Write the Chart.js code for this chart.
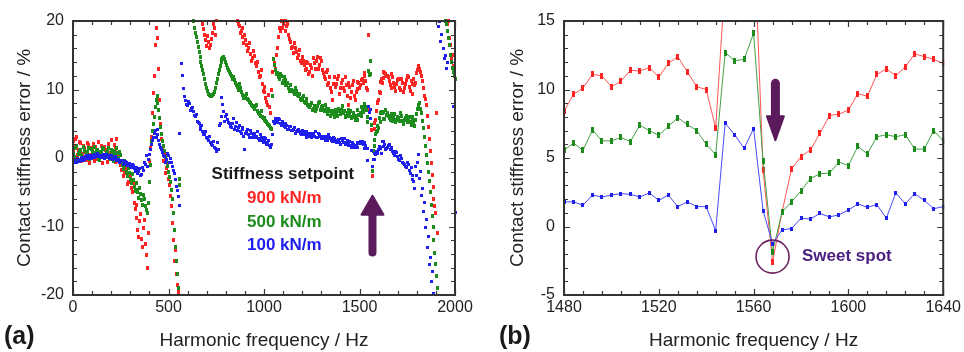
<!DOCTYPE html>
<html>
<head>
<meta charset="utf-8">
<script src="https://cdn.jsdelivr.net/npm/chart.js@4.4.1/dist/chart.umd.min.js"></script>
<style>
  html, body { margin: 0; padding: 0; background: #fff; }
  #wrap { position: relative; width: 964px; height: 352px; overflow: hidden; }
  .panel { position: absolute; top: 0; width: 482px; height: 352px; }
</style>
</head>
<body>
<div id="wrap">
  <div class="panel" style="left:0"><canvas id="chartA" width="482" height="352"></canvas></div>
  <div class="panel" style="left:482px"><canvas id="chartB" width="482" height="352"></canvas></div>
</div>
<script>
// ---- Panel (a): full sweep. Harmonics on two interleaved 10 Hz grids ----
// grid "A": 0, 10, ... 1470 Hz and 1650 ... 2000 Hz
// grid "B": 5, 15, ... 1475 Hz and 1645 ... 1995 Hz
const lowStartA = 0, lowStartB = 5, lowStep = 10;
const highStartA = 1650, highStartB = 1645, highStep = 10;

const red900LowA = [
  2.5,1.8,3.0,1.2,2.2,0.6,1.5,-0.3,1.9,0.4,1.1,0.2,1.6,-0.2,0.9,1.8,0.1,1.2,-0.6,0.8,2.6,0.3,1.3,2.8,-0.5,
  -1.0,-0.4,-2.2,-1.5,-3.5,-2.8,-5.0,-6.5,-8.8,-10.5,-9.2,-11.8,-10.2,-12.5,-16.0,
  -0.5,3.0,9.5,16.5,22,13.0,5.0,1.5,0.5,-1.5,-3.0,-5.5,-9.5,-15.0,-17.0,-19.5,null,
  null,null,null,null,null,null,null,null,null,null,null,
  19.5,18.0,16.3,17.0,16.5,18.2,19.0,20.5,
  null,null,null,null,null,null,null,null,null,null,
  20.0,19.2,18.5,17.6,17.9,16.5,16.0,15.2,14.6,14.9,13.5,12.6,12.0,10.8,9.6,8.8,7.8,7.4,
  10.0,14.5,13.0,16.0,19.0,20.0,19.5,20.0,19.2,18.0,17.0,
  16.2,16.8,15.5,15.0,14.2,14.8,13.6,13.0,13.8,12.6,13.2,14.6,13.0,14.8,13.6,14.2,12.4,11.6,12.8,11.0,
  10.2,8.4,11.8,10.8,12.0,10.2,11.4,9.8,10.6,7.8,10.4,9.6,11.2
];
const red900LowB = [
  1.2,2.8,0.4,2.4,-0.4,1.7,0.9,2.2,-0.8,1.5,2.0,-0.4,0.8,2.3,0.5,-0.7,1.6,0.6,2.0,-0.2,1.0,1.9,-0.6,0.6,0.8,
  -1.8,-2.6,-0.8,-3.8,-2.2,-4.4,-3.6,-7.5,-6.8,-11.6,-8.2,-13.0,-9.0,-14.2,-11.0,
  1.5,6.5,12.0,19.0,17.5,8.5,2.8,-0.5,-2.2,-0.8,-4.0,-7.0,-12.0,-13.5,-18.5,null,null,
  null,null,null,null,null,null,null,null,null,null,null,
  18.8,17.2,17.8,16.0,17.4,19.6,18.0,null,
  null,null,null,null,null,null,null,null,null,null,
  19.6,18.2,19.0,16.8,17.2,15.6,16.8,14.2,15.6,13.8,14.0,11.8,12.8,9.8,10.4,8.2,9.2,6.6,
  12.5,13.8,15.0,17.6,18.6,19.0,20.0,18.6,19.6,17.4,16.0,
  15.4,16.0,14.6,15.8,13.8,14.2,12.8,14.0,12.2,13.6,12.0,13.8,14.2,13.0,14.6,12.8,11.8,12.6,10.6,11.8,
  9.6,10.8,10.4,11.6,9.4,11.0,10.2,11.8,9.0,11.0,8.8,10.6,9.0
];
const green500LowA = [
  1.5,0.2,1.8,0.6,1.2,-0.2,1.0,0.4,1.4,0.0,0.9,1.6,0.3,1.1,-0.3,0.7,1.3,0.2,1.0,0.5,1.2,-0.4,0.8,1.5,0.0,
  0.5,-1.0,-0.4,-2.0,-1.5,-3.0,-2.4,-4.2,-3.6,-5.0,-4.4,-6.2,-5.4,-7.0,-8.0,
  -3.5,2.5,5.0,7.5,9.0,7.0,4.5,2.5,1.0,-0.5,-2.0,-3.5,-6.0,-10.5,-15.0,-19.0,-3.0,
  null,null,null,null,null,null,
  20.0,18.2,17.0,15.5,14.0,12.8,11.5,10.2,9.4,9.0,9.2,9.6,11.0,12.2,13.5,14.4,14.8,14.0,13.2,12.6,
  12.0,11.8,11.0,10.4,10.8,9.6,9.2,8.8,9.4,8.4,8.0,7.6,7.2,7.8,6.6,6.2,6.0,5.8,5.4,5.0,4.6,
  4.2,14.5,12.8,12.4,11.6,12.0,11.2,11.4,10.8,10.2,10.6,9.8,9.4,9.8,9.0,8.6,8.8,8.2,8.6,7.8,
  7.4,8.0,7.2,6.8,7.6,8.2,7.4,7.0,7.8,6.6,7.2,6.2,6.8,6.0,6.6,7.2,6.4,7.6,6.8,6.2,
  7.0,6.4,5.8,6.6
];
const green500LowB = [
  0.6,1.4,-0.1,1.0,0.4,1.6,0.2,0.9,-0.2,1.3,0.5,0.8,1.2,-0.1,0.9,1.5,0.4,0.7,1.4,-0.2,0.6,1.0,0.3,0.8,0.9,
  -0.4,-1.6,-1.0,-2.6,-2.2,-3.6,-3.2,-4.8,-4.6,-5.8,-5.2,-6.8,-6.0,-7.6,-6.5,
  -1.0,4.0,6.0,8.5,8.0,5.8,3.5,1.8,0.2,-1.2,-2.8,-4.6,-8.0,-13.0,-17.0,-4.0,null,
  null,null,null,null,null,null,
  19.0,17.6,16.2,14.8,13.4,12.2,10.8,9.8,9.2,9.0,9.4,10.2,11.6,12.8,14.0,14.6,14.4,13.6,12.8,12.2,
  11.6,11.4,10.6,10.0,10.2,9.2,8.8,9.0,8.6,8.2,7.8,7.4,7.6,6.8,6.4,6.8,5.8,5.6,5.2,4.8,4.4,
  9.0,13.6,12.2,11.8,12.2,11.0,11.8,10.6,11.0,9.8,10.0,9.6,10.2,9.2,9.4,8.4,9.0,8.0,8.2,7.6,
  7.8,7.0,7.6,7.2,8.0,7.0,7.6,6.8,7.2,6.4,6.8,6.6,6.4,7.0,6.2,6.8,7.0,6.6,6.0,6.6,
  6.2,6.8,6.0,6.2
];
const blue100LowA = [
  -0.5,-0.3,-0.6,-0.2,-0.4,0.1,-0.2,0.3,0.0,0.4,0.1,0.5,0.2,0.6,0.3,0.1,0.5,0.2,0.4,0.0,0.3,-0.1,0.2,-0.3,-0.2,
  -0.5,-0.4,-0.8,-0.6,-1.0,-1.2,-0.9,-1.5,-1.8,-2.2,-1.6,-2.4,-1.8,-1.0,-1.2,
  0.5,2.0,3.0,4.0,3.5,2.5,1.5,0.8,0.2,-0.2,0.4,0.0,-1.2,-2.2,-4.2,-5.6,-7.0,
  13.8,10.2,8.4,7.6,7.9,7.2,6.8,6.0,5.4,5.0,4.2,3.8,3.5,3.0,2.5,2.2,1.8,1.6,1.0,1.2,
  5.0,8.8,6.8,6.0,5.6,5.0,4.4,5.8,4.6,4.0,4.8,3.6,4.2,1.2,3.8,3.4,4.0,3.0,3.6,3.2,
  2.8,3.4,2.6,2.4,2.8,2.2,1.8,2.0,
  5.4,5.8,5.2,5.6,4.8,5.0,4.4,4.8,4.2,4.6,4.0,4.4,3.8,4.2,3.6,4.0,3.4,3.8,3.2,3.6,
  3.0,3.4,3.8,3.0,3.4,2.8,3.2,2.6,3.0,3.4,2.8,2.4,2.9,2.2,2.7,2.0,2.5,2.9,2.2,1.8,
  2.4,1.6,2.0
];
const blue100LowB = [
  -0.4,-0.7,-0.1,-0.5,0.0,-0.3,0.2,-0.1,0.3,0.0,0.4,0.1,0.5,0.2,0.4,0.3,0.0,0.5,0.1,0.3,-0.2,0.1,0.0,-0.4,-0.6,
  -0.3,-0.9,-0.5,-1.1,-0.8,-1.4,-1.1,-1.9,-1.4,-2.0,-2.6,-1.4,-0.6,0.3,-0.2,
  1.2,2.6,3.6,3.0,4.2,2.0,1.2,0.4,-0.6,0.6,-0.6,-0.6,-1.8,-3.2,-4.8,3.6,null,
  12.0,9.0,7.8,8.2,7.0,7.4,6.2,6.4,5.2,4.6,4.8,3.4,3.8,2.8,3.2,2.0,2.4,1.4,2.2,4.8,
  6.0,7.8,5.4,6.4,5.2,4.6,5.0,4.2,5.2,4.4,3.8,4.4,3.2,3.6,4.2,3.0,3.6,3.4,3.0,3.8,
  2.6,3.0,2.2,3.0,2.0,2.6,1.6,3.5,
  5.0,5.4,5.8,5.0,5.4,4.6,5.0,4.2,4.6,4.0,4.2,3.6,4.0,3.8,3.4,3.8,3.6,3.0,3.4,3.2,
  3.6,3.2,3.0,3.6,3.2,3.0,2.8,3.2,2.6,3.0,2.6,3.0,2.4,2.6,2.2,2.8,2.3,2.0,2.6,2.2,
  1.8,2.2,1.5
];

const red900HighA = [
  11.8,10.6,12.2,11.0,9.8,11.4,10.2,11.6,9.6,10.8,
  12.0,10.4,11.2,9.4,10.6,12.4,13.4,12.6,11.2,9.0,
  7.8,4.5,1.0,-2.5,-6.0,-8.0,-11.0,null,null,null,
  null,19.5,17.5,14.5,13.5,null
];
const red900HighB = [
  12.0,11.2,10.2,11.8,10.4,10.8,11.6,10.0,11.0,10.2,
  11.4,11.8,9.8,10.8,11.6,11.0,12.8,13.0,12.0,10.2,
  8.6,6.2,2.8,-0.8,-4.2,-7.0,6.5,null,null,null,
  null,null,20.0,16.5,15.0,12.8
];
const green500HighA = [
  6.2,5.6,6.4,5.8,5.2,6.0,5.4,6.2,5.0,5.8,
  5.2,6.0,4.8,5.4,4.6,6.4,7.8,7.2,5.4,3.0,
  0.5,-2.0,-5.0,-8.5,-12.0,-15.5,-19.0,null,null,null,
  20.0,18.5,16.5,14.0,12.5,11.5
];
const green500HighB = [
  6.6,5.8,6.0,5.4,6.4,5.6,5.8,6.6,5.4,5.6,
  6.2,5.6,5.2,6.0,5.0,5.6,7.2,8.0,6.6,4.4,
  1.8,-0.8,-3.4,-6.8,-10.0,-13.8,-17.2,null,null,null,
  null,19.5,17.5,15.0,13.2,12.0
];
const blue100HighA = [
  1.8,1.2,1.6,0.6,1.0,0.2,-0.4,0.0,-0.8,-1.2,
  -0.6,-1.8,-1.4,-2.6,-4.5,-2.5,0.5,-2.0,-4.5,-6.5,
  -9.0,-11.5,-14.5,-16.5,-19.8,null,null,20.0,18.0,16.0,
  15.0,14.0,null,null,7.5,-8.0
];
const blue100HighB = [
  1.6,2.0,1.4,1.0,0.4,0.8,-0.2,0.4,-0.6,-1.0,
  -1.4,-1.0,-2.2,-3.2,-3.4,-1.2,-0.6,-3.0,-5.5,-7.8,
  -10.2,-13.0,-15.5,-18.0,null,null,null,19.2,17.0,null,
  14.5,13.0,null,null,null,null
];

// ---- Panel (b): harmonics 1480-1640 Hz, 4 Hz apart (also drawn in panel a) ----
const zoomStart = 1480, zoomStep = 4;
const red900Zoom = [
  8.4,9.65,10.1,11.1,11.0,10.2,10.6,11.4,11.35,11.6,10.9,11.9,12.4,11.3,10.2,10.0,7.2,
  18.0,24.0,23.0,22.3,4.1,-2.6,1.05,4.2,5.1,5.6,6.8,8.1,8.2,8.5,9.7,9.5,11.1,11.5,11.0,
  11.65,12.6,12.4,12.2,11.9
];
const green500Zoom = [
  5.55,6.1,5.55,7.05,6.25,6.25,6.5,6.2,7.4,7.0,6.65,7.3,7.95,7.45,7.0,6.0,5.25,
  12.7,12.1,12.2,14.1,4.8,-1.85,1.05,1.8,2.6,3.5,3.85,3.9,4.7,4.45,5.85,5.3,6.55,6.7,6.55,
  6.7,5.65,5.65,7.0,6.25
];
const blue100Zoom = [
  1.8,1.8,1.55,2.3,2.15,2.3,2.4,2.35,2.15,2.45,1.9,2.3,1.45,1.8,1.45,1.45,-0.3,
  7.55,6.7,5.7,7.15,1.15,-1.25,-0.25,-0.15,0.6,0.55,0.95,0.7,0.85,1.2,1.65,1.4,1.6,0.6,2.45,
  1.65,2.4,1.9,1.3,1.45
];

const seriesNames = ['900 kN/m', '500 kN/m', '100 kN/m'];
const pointColours = ['#ff2424', '#1d8c1d', '#2020ee'];
const lineColours = ['#ff5555', '#45a045', '#4a4aff'];
const sweetSpotHz = 1568;

// ---- helpers ----
function toPoints(start, step, values) {
  const pts = [];
  values.forEach((v, i) => { if (v !== null) pts.push({ x: start + i * step, y: v }); });
  return pts;
}

// small filled rectangle used as a marker
function mark(colour, w, h) {
  const c = document.createElement('canvas');
  c.width = w; c.height = h;
  const g = c.getContext('2d');
  g.fillStyle = colour;
  g.fillRect(0, 0, w, h);
  return c;
}

const FONT = '"Liberation Sans", Arial, Helvetica, sans-serif';
Chart.defaults.font.family = FONT;
Chart.defaults.color = '#222';

function frameTicks(xMinor, xMajor, yMinor, yMajor) {
  return {
    id: 'frameTicks',
    afterDatasetsDraw(chart) {
      const { ctx, chartArea: a, scales: { x, y } } = chart;
      ctx.save();
      ctx.strokeStyle = '#3a3a3a';
      ctx.lineWidth = 1.2;
      ctx.beginPath();
      const nx = Math.round((x.max - x.min) / xMinor);
      for (let i = 0; i <= nx; i++) {
        const v = x.min + i * xMinor;
        const len = (Math.abs(Math.round(v / xMajor) * xMajor - v) < 1e-6) ? 6 : 4;
        const px = Math.round(x.getPixelForValue(v)) + 0.5;
        ctx.moveTo(px, a.bottom); ctx.lineTo(px, a.bottom - len);
        ctx.moveTo(px, a.top); ctx.lineTo(px, a.top + len);
      }
      const ny = Math.round((y.max - y.min) / yMinor);
      for (let i = 0; i <= ny; i++) {
        const v = y.min + i * yMinor;
        const len = (Math.abs(Math.round(v / yMajor) * yMajor - v) < 1e-6) ? 6 : 4;
        const py = Math.round(y.getPixelForValue(v)) + 0.5;
        ctx.moveTo(a.left, py); ctx.lineTo(a.left + len, py);
        ctx.moveTo(a.right, py); ctx.lineTo(a.right - len, py);
      }
      ctx.stroke();
      ctx.lineWidth = 2;
      ctx.strokeStyle = '#333';
      ctx.strokeRect(a.left, a.top, a.right - a.left, a.bottom - a.top);
      ctx.restore();
    }
  };
}

function drawArrow(ctx, x, yTail, yTip, shaftW, headW, headL, colour) {
  const dir = Math.sign(yTip - yTail);
  const yHead = yTip - dir * headL;
  ctx.save();
  ctx.strokeStyle = colour;
  ctx.fillStyle = colour;
  ctx.lineWidth = shaftW;
  ctx.lineCap = 'round';
  ctx.beginPath();
  ctx.moveTo(x, yTail);
  ctx.lineTo(x, yHead + dir * 2);
  ctx.stroke();
  ctx.lineJoin = 'round';
  ctx.lineWidth = 2;
  ctx.beginPath();
  ctx.moveTo(x - headW / 2, yHead);
  ctx.lineTo(x + headW / 2, yHead);
  ctx.lineTo(x, yTip);
  ctx.closePath();
  ctx.fill();
  ctx.stroke();
  ctx.restore();
}

function panelLetter(text, left) {
  return {
    id: 'panelLetter',
    afterDraw(chart) {
      const ctx = chart.ctx;
      ctx.save();
      ctx.font = 'bold 25px ' + FONT;
      ctx.fillStyle = '#1a1a1a';
      ctx.textAlign = 'left';
      ctx.textBaseline = 'middle';
      ctx.fillText(text, left, 337);
      ctx.restore();
    }
  };
}

function axes(xMin, xMax, xStep, yMin, yMax, yStep, yAxisWidth, yTitlePad) {
  return {
    x: {
      type: 'linear', min: xMin, max: xMax,
      afterFit(s) { s.height = 57; },
      grid: { display: false, drawTicks: false },
      border: { display: false },
      ticks: { stepSize: xStep, padding: 3, maxRotation: 0, color: '#222', font: { size: 16 },
               callback: v => String(v) },
      title: { display: true, text: 'Harmonic frequency / Hz', color: '#222',
               font: { size: 19 }, padding: { top: 0, bottom: 0 } }
    },
    y: {
      type: 'linear', min: yMin, max: yMax,
      afterFit(s) { s.width = yAxisWidth; },
      grid: { display: false, drawTicks: false },
      border: { display: false },
      ticks: { stepSize: yStep, padding: 9, color: '#222', font: { size: 16 },
               callback: v => String(v) },
      title: { display: true, text: 'Contact stiffness error / %', color: '#222',
               font: { size: 19 }, padding: { top: yTitlePad, bottom: 0 } }
    }
  };
}

// ---- Panel (a) ----
const sweepParts = [
  [red900LowA, red900LowB, red900Zoom, red900HighA, red900HighB],
  [green500LowA, green500LowB, green500Zoom, green500HighA, green500HighB],
  [blue100LowA, blue100LowB, blue100Zoom, blue100HighA, blue100HighB]
];
const sweepSets = sweepParts.map((p, k) => ({
  label: seriesNames[k],
  data: [
    ...toPoints(lowStartA, lowStep, p[0]),
    ...toPoints(lowStartB, lowStep, p[1]),
    ...toPoints(zoomStart, zoomStep, p[2]),
    ...toPoints(highStartA, highStep, p[3]),
    ...toPoints(highStartB, highStep, p[4])
  ],
  showLine: false,
  pointStyle: mark(pointColours[k], 3, k === 2 ? 3 : 4),
  pointRadius: 2,
  pointBorderWidth: 0,
  backgroundColor: pointColours[k],
  borderColor: pointColours[k],
  clip: 2
})).reverse();

const annotateA = {
  id: 'annotateA',
  afterDatasetsDraw(chart) {
    const { ctx, scales: { x, y } } = chart;
    ctx.save();
    ctx.textBaseline = 'middle';
    ctx.font = 'bold 17px ' + FONT;
    ctx.fillStyle = '#1a1a1a';
    ctx.textAlign = 'center';
    ctx.fillText('Stiffness setpoint', x.getPixelForValue(1099), y.getPixelForValue(-2.4));
    ctx.textAlign = 'left';
    const rows = [-5.9, -9.35, -12.8];
    seriesNames.forEach((name, k) => {
      ctx.fillStyle = pointColours[k];
      ctx.fillText(name, x.getPixelForValue(911), y.getPixelForValue(rows[k]));
    });
    ctx.restore();
    drawArrow(ctx, x.getPixelForValue(sweetSpotHz), y.getPixelForValue(-13.8),
              y.getPixelForValue(-5.5), 8, 22, 19, '#5a1a5c');
  }
};

new Chart(document.getElementById('chartA'), {
  type: 'scatter',
  data: { datasets: sweepSets },
  options: {
    responsive: false, animation: false, devicePixelRatio: 1,
    layout: { padding: { left: 0, right: 27, top: 21, bottom: 0 } },
    plugins: { legend: { display: false }, tooltip: { enabled: false } },
    scales: axes(0, 2000, 500, -20, 20, 10, 73, 13)
  },
  plugins: [annotateA, frameTicks(100, 500, 2, 10), panelLetter('(a)', 4)]
});

// ---- Panel (b) ----
const zoomSets = [red900Zoom, green500Zoom, blue100Zoom].map((vals, k) => ({
  label: seriesNames[k],
  data: toPoints(zoomStart, zoomStep, vals),
  showLine: true,
  borderWidth: 1,
  borderColor: lineColours[k],
  pointStyle: mark(pointColours[k], 3, k === 2 ? 4 : 6),
  pointRadius: 2,
  pointBorderWidth: 0,
  pointBackgroundColor: pointColours[k],
  clip: 1
})).reverse();

const annotateB = {
  id: 'annotateB',
  afterDatasetsDraw(chart) {
    const { ctx, scales: { x, y } } = chart;
    ctx.save();
    ctx.strokeStyle = '#6a2262';
    ctx.lineWidth = 1.6;
    ctx.beginPath();
    ctx.arc(x.getPixelForValue(sweetSpotHz), y.getPixelForValue(-2.2), 16.5, 0, Math.PI * 2);
    ctx.stroke();
    ctx.font = 'bold 17px ' + FONT;
    ctx.fillStyle = '#4a1e80';
    ctx.textAlign = 'left';
    ctx.textBaseline = 'middle';
    ctx.fillText('Sweet spot', x.getPixelForValue(1580.4), y.getPixelForValue(-2.2));
    ctx.restore();
    drawArrow(ctx, x.getPixelForValue(1569.2), y.getPixelForValue(10.45),
              y.getPixelForValue(6.3), 9, 17, 24, '#5a1a5c');
  }
};

new Chart(document.getElementById('chartB'), {
  type: 'scatter',
  data: { datasets: zoomSets },
  options: {
    responsive: false, animation: false, devicePixelRatio: 1,
    layout: { padding: { left: 0, right: 19, top: 21, bottom: 0 } },
    plugins: { legend: { display: false }, tooltip: { enabled: false } },
    scales: axes(1480, 1640, 40, -5, 15, 5, 82, 24)
  },
  plugins: [annotateB, frameTicks(8, 40, 1, 5), panelLetter('(b)', 17)]
});
</script>
</body>
</html>
